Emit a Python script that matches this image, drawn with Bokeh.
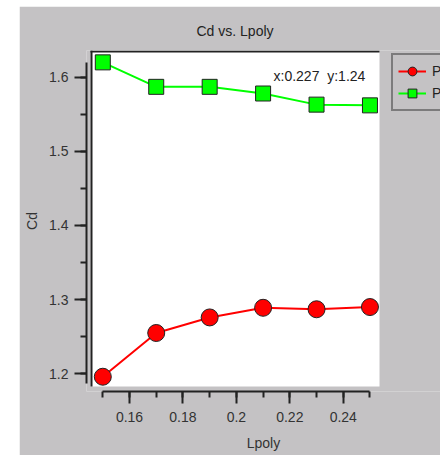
from bokeh.plotting import figure
from bokeh.models import (Range1d, SingleIntervalTicker, CustomJSTickFormatter, BoxAnnotation,
                          Legend, LegendItem, Label, Spacer)
from bokeh.layouts import row, column
from bokeh.embed import file_html
from bokeh.resources import INLINE

# ---- data ----
lpoly = [0.15, 0.17, 0.19, 0.21, 0.23, 0.25]
cd_red = [1.196, 1.255, 1.276, 1.289, 1.287, 1.290]
cd_green = [1.620, 1.587, 1.587, 1.578, 1.563, 1.562]
series_names = ["P", "P"]
title_text = "Cd vs. Lpoly"
x_label = "Lpoly"
y_label = "Cd"
cursor_text = "x:0.227\u00a0 y:1.24"

GRAY = "#c4c2c4"
FONT = "Liberation Sans"

p = figure(width=421, height=449, output_backend="svg", toolbar_location=None,
           x_range=Range1d(0.1439, 0.2764), y_range=Range1d(1.1761, 1.636),
           min_border_left=67, min_border_right=0, min_border_top=44, min_border_bottom=64)
p.border_fill_color = GRAY
p.background_fill_color = GRAY
p.outline_line_color = None
p.xgrid.visible = False
p.ygrid.visible = False

# white plotting area with dark top/left edges
def cbox(l, r, t, b, color):
    return BoxAnnotation(left=l, right=r, top=t, bottom=b,
                         left_units="canvas", right_units="canvas",
                         top_units="canvas", bottom_units="canvas",
                         fill_color=color, fill_alpha=1, line_color=None, level="underlay")

p.add_layout(cbox(71, 360, 44, 380, "white"))
p.add_layout(cbox(71, 360, 44, 46, "#222222"))
p.add_layout(cbox(71, 73, 44, 380, "#222222"))

# title
p.title.text = title_text
p.title.align = "left"
p.title.offset = 110
p.title.text_font = FONT
p.title.text_font_size = "14px"
p.title.text_font_style = "normal"
p.title.text_color = "#222222"
p.title.standoff = 23

fmt = CustomJSTickFormatter(code="return (Math.round(tick*1000)/1000).toString();")

for ax in (p.xaxis[0], p.yaxis[0]):
    ax.axis_line_color = "#222222"
    ax.axis_line_width = 2
    ax.major_tick_line_color = "#222222"
    ax.major_tick_line_width = 2
    ax.minor_tick_line_color = "#222222"
    ax.minor_tick_line_width = 2
    ax.major_tick_out = 12
    ax.major_tick_in = 0
    ax.minor_tick_out = 6
    ax.minor_tick_in = 0
    ax.major_label_text_font = FONT
    ax.major_label_text_font_size = "14px"
    ax.major_label_text_color = "#333333"
    ax.axis_label_text_font = FONT
    ax.axis_label_text_font_size = "14px"
    ax.axis_label_text_font_style = "normal"
    ax.axis_label_text_color = "#333333"
    ax.formatter = fmt

p.xaxis[0].ticker = SingleIntervalTicker(interval=0.02, num_minor_ticks=2)
p.yaxis[0].ticker = SingleIntervalTicker(interval=0.1, num_minor_ticks=2)
p.xaxis[0].bounds = (min(lpoly), max(lpoly))
p.yaxis[0].bounds = (1.187, 1.62)
p.xaxis[0].axis_label = x_label
p.yaxis[0].axis_label = y_label
p.xaxis[0].major_label_standoff = 8
p.yaxis[0].major_label_standoff = 6
p.xaxis[0].axis_label_standoff = 10
p.yaxis[0].axis_label_standoff = 6

# series
l1 = p.line(lpoly, cd_red, line_color="#ff0000", line_width=2)
s1 = p.scatter(lpoly, cd_red, marker="circle", size=17, fill_color="#ff0000",
               line_color="#222222", line_width=1)
l2 = p.line(lpoly, cd_green, line_color="#00ff00", line_width=2)
s2 = p.scatter(lpoly, cd_green, marker="square", size=15, fill_color="#00ff00",
               line_color="#222222", line_width=1)

legend = Legend(items=[LegendItem(label=series_names[0], renderers=[l1, s1]),
                       LegendItem(label=series_names[1], renderers=[l2, s2])],
                location=(305, 280), orientation="vertical",
                glyph_width=28, glyph_height=22, label_height=22, spacing=0,
                padding=5, margin=0, label_standoff=6,
                label_text_font=FONT, label_text_font_size="14px", label_text_color="#222222",
                background_fill_color=GRAY, background_fill_alpha=1,
                border_line_color="#333333", border_line_width=2)
p.add_layout(legend, "center")

p.add_layout(Label(x=187, y=316, x_units="screen", y_units="screen", text=cursor_text,
                   text_font=FONT, text_font_size="14px", text_color="#222222",
                   text_baseline="middle"))

layout = column(Spacer(width=440, height=6), row(Spacer(width=19, height=449), p))
open("out.html", "w").write(file_html(layout, INLINE))
